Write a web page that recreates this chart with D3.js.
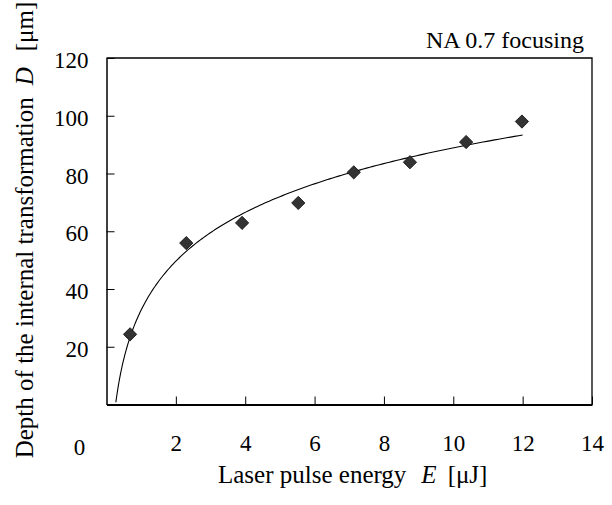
<!DOCTYPE html>
<html>
<head>
<meta charset="utf-8">
<script src="https://cdn.jsdelivr.net/npm/d3@7"></script>
<style>
  body { margin: 0; background: #fff; }
  svg { display: block; }
  svg text { font-family: "Liberation Serif", "Times New Roman", serif !important; fill: #000; }
  .axis path, .axis line { stroke: #000; }
  .axis text { font-size: 23px !important; }
</style>
</head>
<body>
<svg id="chart" width="612" height="505"></svg>
<script>
// Laser pulse energy E [uJ] and measured depth D [um]
var energy = [0.68, 2.30, 3.91, 5.53, 7.13, 8.75, 10.37, 11.98];
var depth = [24.3, 55.9, 62.9, 69.8, 80.4, 83.9, 90.9, 98.0];
var xTicks = [2, 4, 6, 8, 10, 12, 14];
var yTicks = [20, 40, 60, 80, 100, 120];
// trendline range (log fit drawn back a little before the first point)
var fitRange = [0.27, 12];

var svg = d3.select("#chart");
var margin = { left: 106.5, right: 20, top: 58, bottom: 100.5 };
var width = 612 - margin.left - margin.right;
var height = 505 - margin.top - margin.bottom;

var x = d3.scaleLinear().domain([0, 14]).range([0, width]);
var y = d3.scaleLinear().domain([0, 120]).range([height, 0]);

var g = svg.append("g")
  .attr("transform", "translate(" + margin.left + "," + margin.top + ")");

// Logarithmic least-squares trendline, same as the spreadsheet one
var lx = energy.map(Math.log);
var mx = d3.mean(lx), my = d3.mean(depth);
var sxy = d3.sum(lx, function(v, i) { return (v - mx) * (depth[i] - my); });
var sxx = d3.sum(lx, function(v) { return (v - mx) * (v - mx); });
var a = sxy / sxx, b = my - a * mx;
var fitPts = d3.range(0, 201).map(function(i) {
  var e = fitRange[0] + (fitRange[1] - fitRange[0]) * Math.pow(i / 200, 2);
  return [e, a * Math.log(e) + b];
});

// x axis, ticks pointing inwards
var xAxis = g.append("g")
  .attr("class", "axis")
  .attr("transform", "translate(0," + height + ")")
  .call(d3.axisBottom(x).tickValues(xTicks).tickSizeInner(-8).tickSizeOuter(0).tickPadding(30));
xAxis.select(".domain").attr("stroke-width", 2);

// y axis
var yAxis = g.append("g")
  .attr("class", "axis")
  .call(d3.axisLeft(y).tickValues(yTicks).tickSizeInner(-8).tickSizeOuter(0).tickPadding(18));
yAxis.select(".domain").attr("stroke-width", 1.5);
yAxis.selectAll(".tick text").attr("dy", "0.42em");

// origin label sits off to the left
g.append("text")
  .attr("x", x(0) - 27)
  .attr("y", height + 50)
  .attr("text-anchor", "middle")
  .style("font-size", "23px")
  .text("0");

// top and right frame
g.append("path")
  .attr("d", "M0,0H" + width + "V" + height)
  .attr("fill", "none")
  .attr("stroke", "#000")
  .attr("stroke-width", 1.3);

// trendline
g.append("path")
  .datum(fitPts)
  .attr("fill", "none")
  .attr("stroke", "#000")
  .attr("stroke-width", 1.1)
  .attr("d", d3.line()
    .x(function(d) { return x(d[0]); })
    .y(function(d) { return y(d[1]); }));

// diamonds
var diamond = d3.symbol().type(d3.symbolSquare).size(88);
g.selectAll(".pt")
  .data(energy)
  .enter()
  .append("path")
  .attr("class", "pt")
  .attr("d", diamond)
  .attr("transform", function(d, i) {
    return "translate(" + x(d) + "," + y(depth[i]) + ") rotate(45)";
  })
  .attr("fill", "#333")
  .attr("stroke", "#111")
  .attr("stroke-width", 0.8);

// annotation
svg.append("text")
  .attr("x", 584)
  .attr("y", 48)
  .attr("text-anchor", "end")
  .style("font-size", "24px")
  .text("NA 0.7 focusing");

// x title
var xt = svg.append("text")
  .attr("x", 218)
  .attr("y", 483)
  .style("font-size", "25px");
xt.append("tspan").text("Laser pulse energy");
xt.append("tspan").attr("dx", 15).attr("font-style", "italic").text("E");
xt.append("tspan").attr("dx", 11).text("[\u03bcJ]");

// y title
var yt = svg.append("text")
  .attr("transform", "translate(33,230) rotate(-90)")
  .attr("text-anchor", "middle")
  .style("font-size", "25px");
yt.append("tspan").text("Depth of the internal transformation");
yt.append("tspan").attr("dx", 12).attr("font-style", "italic").text("D");
yt.append("tspan").attr("dx", 16).text("[\u03bcm]");
</script>
</body>
</html>
